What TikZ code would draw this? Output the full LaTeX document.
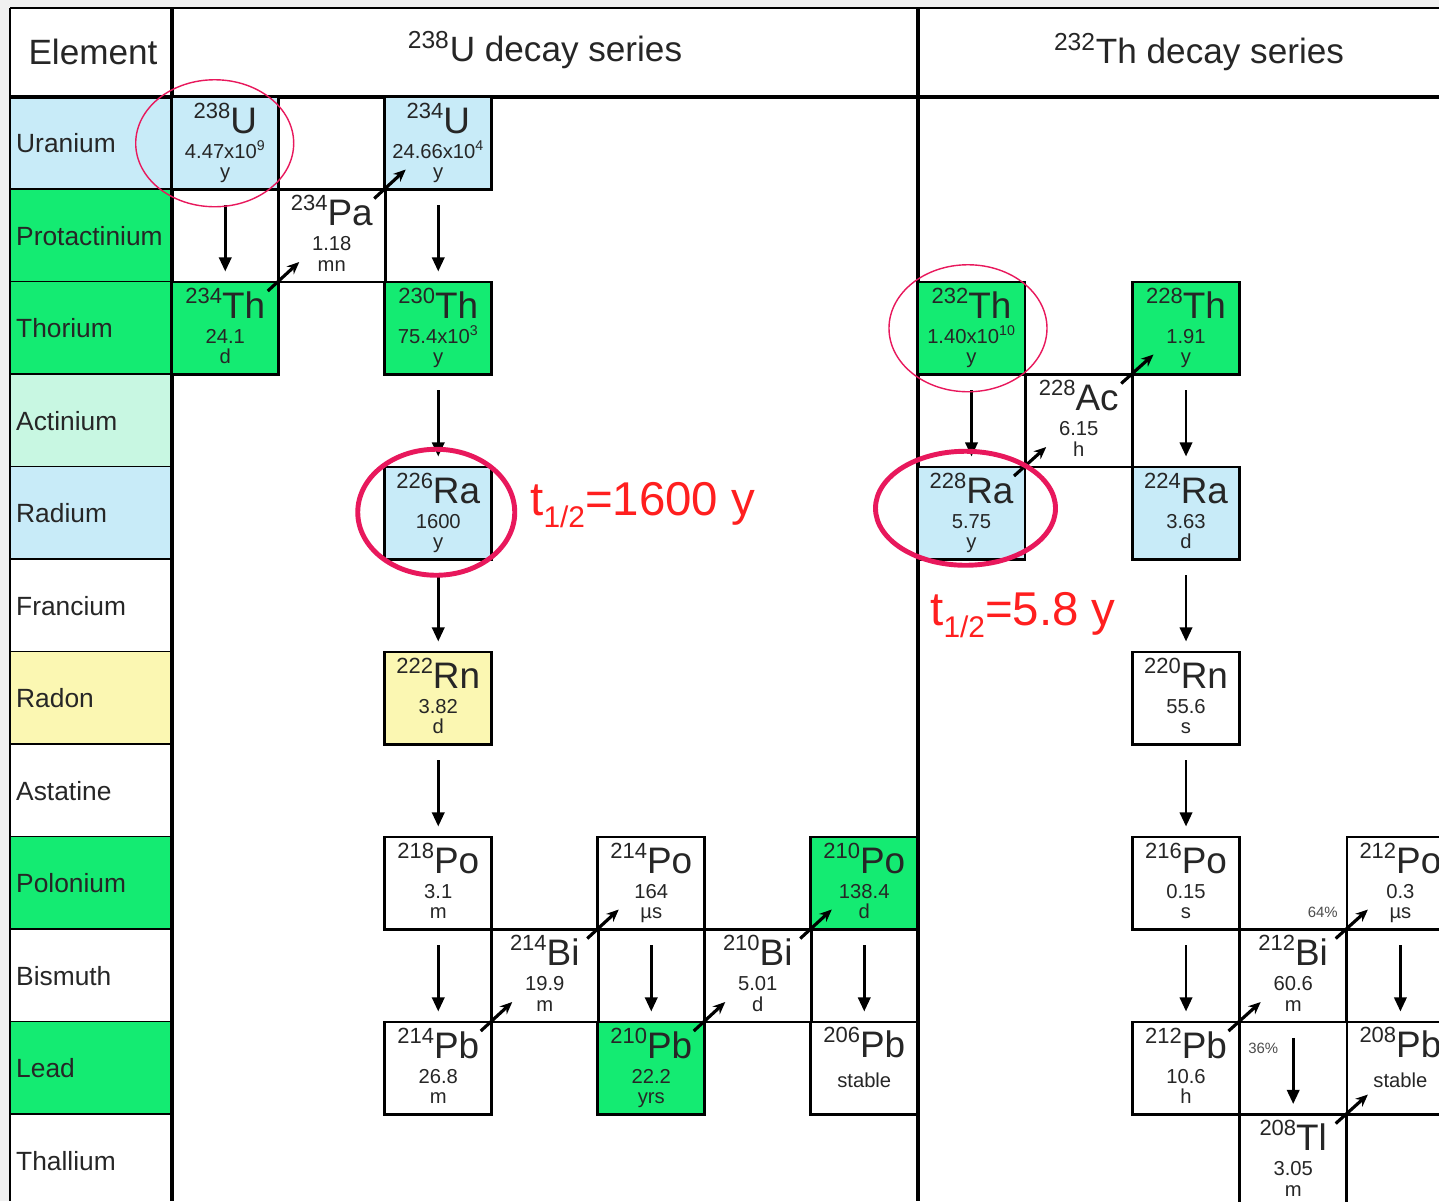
\documentclass[tikz,border=0pt]{standalone}
\usepackage{fontspec}
\setmainfont{Liberation Sans}
\usetikzlibrary{arrows.meta}
\definecolor{ublue}{HTML}{C8EBF8}
\definecolor{thgreen}{HTML}{14EB72}
\definecolor{acmint}{HTML}{C8F7E2}
\definecolor{rnyellow}{HTML}{FBF7B2}
\definecolor{ringred}{HTML}{E8185C}
\definecolor{hlred}{HTML}{FF1F1F}
\newcommand{\iso}[2]{\raisebox{8.5pt}{\fontsize{12.5}{12.5}\selectfont #1}{\fontsize{21}{21}\selectfont #2}}
\tikzset{
  nuc/.style={draw, line width=1.6pt, fill=#1, minimum width=2.14cm, minimum height=1.85cm,
              inner sep=0pt, outer sep=0pt, align=center, text depth=3pt,
              font=\fontsize{11.5}{14}\selectfont, text=black!85},
  nuc/.default=white,
  adecay/.style={-{Triangle[length=8pt,width=7pt]}, line width=1.5pt, shorten <=9pt, shorten >=6pt},
  bdecay/.style={-{Stealth[length=7pt,width=6pt]}, line width=1.8pt},
  elname/.style={anchor=west, font=\fontsize{15}{15}\selectfont, text=black!85},
  hdr/.style={font=\fontsize{20}{20}\selectfont, text=black!85},
  ring/.style={draw=ringred, line width=#1},
  half/.style={anchor=base west, text=hlred, font=\fontsize{27}{27}\selectfont, inner sep=0pt},
  pct/.style={font=\fontsize{8.5}{8.5}\selectfont, text=black!70, inner sep=0pt}
}

\begin{document}
\begin{tikzpicture}[x=0.02cm, y=-0.02cm]
  \useasboundingbox (0,0) rectangle (1439,1201);
  \clip (0,0) rectangle (1439,1201);
  \fill[gray!12] (0,0) rectangle (1439,1201);
  \fill[white] (10,8) rectangle (1439,1201);
  \foreach \r/\c/\n in {0/ublue/Uranium, 1/thgreen/Protactinium, 2/thgreen/Thorium, 3/acmint/Actinium,
      4/ublue/Radium, 5/white/Francium, 6/rnyellow/Radon, 7/white/Astatine, 8/thgreen/Polonium,
      9/white/Bismuth, 10/thgreen/Lead, 11/white/Thallium} {
    \fill[\c] (10,97+92.5*\r) rectangle (172,189.5+92.5*\r);
    \node[elname] (el\r) at (10,143.25+92.5*\r) {\n};
    \draw[line width=1.4pt] (10,189.5+92.5*\r) -- (172,189.5+92.5*\r);
  }
  \draw[line width=1pt] (10,8) -- (10,1201);
  \draw[line width=1.2pt] (10,8) -- (1439,8);
  \draw[line width=1.8pt] (10,97) -- (1439,97);
  \draw[line width=2.3pt] (172,8) -- (172,1201);
  \draw[line width=2pt] (918,8) -- (918,1201);
  \node[hdr] (hel) at (93,52) {Element};
  \node[hdr] (hu) at (545,50) {\textsuperscript{238}U decay series};
  \node[hdr] (hth) at (1199,52) {\textsuperscript{232}Th decay series};

  \node[nuc=ublue] (u238) at (225.25,143.25) {\iso{238}{U}\\[0.5pt]4.47x10\textsuperscript{9}\\[-2.6pt]y};
  \node[nuc] (pa234) at (331.75,235.75) {\iso{234}{Pa}\\[0.5pt]1.18\\[-2.6pt]mn};
  \node[nuc=thgreen] (th234) at (225.25,328.25) {\iso{234}{Th}\\[0.5pt]24.1\\[-2.6pt]d};
  \node[nuc=ublue] (u234) at (438.25,143.25) {\iso{234}{U}\\[0.5pt]24.66x10\textsuperscript{4}\\[-2.6pt]y};
  \node[nuc=thgreen] (th230) at (438.25,328.25) {\iso{230}{Th}\\[0.5pt]75.4x10\textsuperscript{3}\\[-2.6pt]y};
  \node[nuc=ublue] (ra226) at (438.25,513.25) {\iso{226}{Ra}\\[0.5pt]1600\\[-2.6pt]y};
  \node[nuc=rnyellow] (rn222) at (438.25,698.25) {\iso{222}{Rn}\\[0.5pt]3.82\\[-2.6pt]d};
  \node[nuc] (po218) at (438.25,883.25) {\iso{218}{Po}\\[0.5pt]3.1\\[-2.6pt]m};
  \node[nuc] (pb214) at (438.25,1068.25) {\iso{214}{Pb}\\[0.5pt]26.8\\[-2.6pt]m};
  \node[nuc] (bi214) at (544.75,975.75) {\iso{214}{Bi}\\[0.5pt]19.9\\[-2.6pt]m};
  \node[nuc] (po214) at (651.25,883.25) {\iso{214}{Po}\\[0.5pt]164\\[-2.6pt]µs};
  \node[nuc=thgreen] (pb210) at (651.25,1068.25) {\iso{210}{Pb}\\[0.5pt]22.2\\[-2.6pt]yrs};
  \node[nuc] (bi210) at (757.75,975.75) {\iso{210}{Bi}\\[0.5pt]5.01\\[-2.6pt]d};
  \node[nuc=thgreen] (po210) at (864.25,883.25) {\iso{210}{Po}\\[0.5pt]138.4\\[-2.6pt]d};
  \node[nuc, text depth=12pt] (pb206) at (864.25,1068.25) {\iso{206}{Pb}\\[3pt]stable};

  \node[nuc=thgreen] (th232) at (971.5,328.25) {\iso{232}{Th}\\[0.5pt]1.40x10\textsuperscript{10}\\[-2.6pt]y};
  \node[nuc=ublue] (ra228) at (971.5,513.25) {\iso{228}{Ra}\\[0.5pt]5.75\\[-2.6pt]y};
  \node[nuc] (ac228) at (1078.7,420.75) {\iso{228}{Ac}\\[0.5pt]6.15\\[-2.6pt]h};
  \node[nuc=thgreen] (th228) at (1186,328.25) {\iso{228}{Th}\\[0.5pt]1.91\\[-2.6pt]y};
  \node[nuc=ublue] (ra224) at (1186,513.25) {\iso{224}{Ra}\\[0.5pt]3.63\\[-2.6pt]d};
  \node[nuc] (rn220) at (1186,698.25) {\iso{220}{Rn}\\[0.5pt]55.6\\[-2.6pt]s};
  \node[nuc] (po216) at (1186,883.25) {\iso{216}{Po}\\[0.5pt]0.15\\[-2.6pt]s};
  \node[nuc] (pb212) at (1186,1068.25) {\iso{212}{Pb}\\[0.5pt]10.6\\[-2.6pt]h};
  \node[nuc] (bi212) at (1293.2,975.75) {\iso{212}{Bi}\\[0.5pt]60.6\\[-2.6pt]m};
  \node[nuc] (po212) at (1400.4,883.25) {\iso{212}{Po}\\[0.5pt]0.3\\[-2.6pt]µs};
  \node[nuc] (tl208) at (1293.2,1160.75) {\iso{208}{Tl}\\[0.5pt]3.05\\[-2.6pt]m};
  \node[nuc, text depth=12pt] (pb208) at (1400.4,1068.25) {\iso{208}{Pb}\\[3pt]stable};

  \foreach \a/\b in {u238/th234, u234/th230, th230/ra226, ra226/rn222, rn222/po218, po218/pb214,
      po214/pb210, po210/pb206, th232/ra228, th228/ra224, ra224/rn220, rn220/po216, po216/pb212,
      po212/pb208, bi212/tl208}
    \draw[adecay] (\a.south) -- (\b.north);
  \foreach \a/\b in {th234/pa234, pa234/u234, pb214/bi214, bi214/po214, pb210/bi210, bi210/po210,
      ra228/ac228, ac228/th228, pb212/bi212, bi212/po212, tl208/pb208}
    \draw[bdecay] ([shift={(-11,9)}]\a.north east) -- ([shift={(21,-20)}]\b.south west);

  \node[pct, anchor=base east] (p64) at (1338,917) {64\%};
  \node[pct, anchor=base west] (p36) at (1248,1053) {36\%};

  \draw[ring=0.8pt] ([xshift=-6]u238.center) ellipse [x radius=79, y radius=63.5];
  \draw[ring=0.8pt] ([xshift=-2]th232.center) ellipse [x radius=79, y radius=63.5];
  \draw[ring=2.8pt] ([shift={(-2,-1)}]ra226.center) ellipse [x radius=78.5, y radius=63];
  \draw[ring=2.8pt] ([shift={(-6,-5)}]ra228.center) ellipse [x radius=90, y radius=57];
  \node[half] (tra) at (530,515) {t\raisebox{-7pt}{\fontsize{17}{17}\selectfont 1/2}=1600 y};
  \node[half] (trb) at (930,625) {t\raisebox{-7pt}{\fontsize{17}{17}\selectfont 1/2}=5.8 y};
\end{tikzpicture}
\end{document}
